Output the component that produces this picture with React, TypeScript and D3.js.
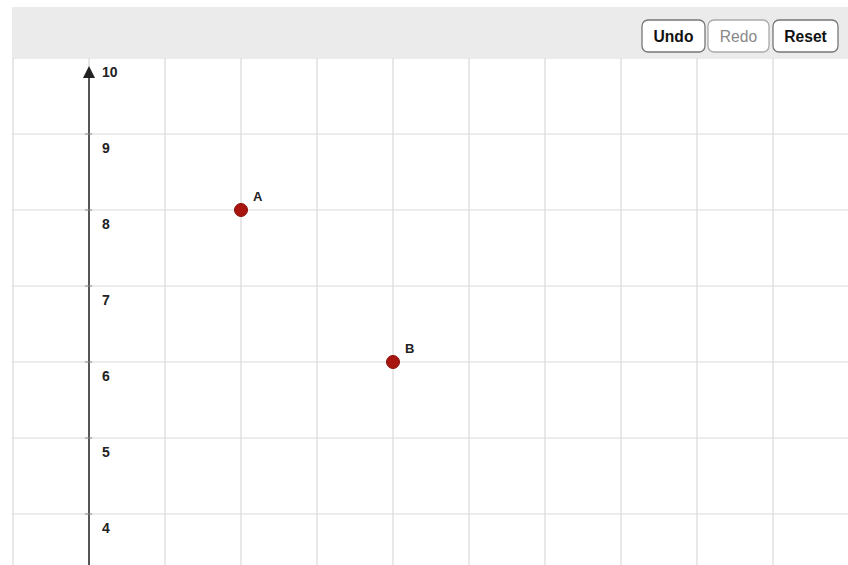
import React from "react";
import * as d3 from "d3";

const pointNames = ["A", "B"];
const pointX = [2, 4];
const pointY = [8, 6];
const yTickValues = [4, 5, 6, 7, 8, 9, 10];
const xGridValues = [-1, 0, 1, 2, 3, 4, 5, 6, 7, 8, 9];
const yGridValues = [3, 4, 5, 6, 7, 8, 9, 10];
const buttons = ["Undo", "Redo", "Reset"];
const buttonEnabled = [true, false, true];

const W = 848;
const H = 565;
const left = 12;
const top = 58;

export default function App() {
  const x = d3.scaleLinear().domain([-1, 9.9868]).range([left + 1, W]);
  const y = d3.scaleLinear().domain([10, 3.329]).range([top, H]);
  const bx = [642, 708, 773];
  const bw = [63, 61, 65];
  return (
    <svg
      width={W}
      height={H}
      style={{ position: "absolute", left: 0, top: 0, background: "#fff" }}
      fontFamily="Liberation Sans, Arial, sans-serif"
    >
      <defs>
        <clipPath id="plot">
          <rect x={left} y={top} width={W - left} height={H - top} />
        </clipPath>
      </defs>
      <g clipPath="url(#plot)">
        {xGridValues.map((v) => (
          <line key={"gx" + v} x1={x(v)} x2={x(v)} y1={top} y2={H} stroke="#d9d9d9" strokeWidth={1.2} />
        ))}
        {yGridValues.map((v) => (
          <line key={"gy" + v} x1={left} x2={W} y1={y(v)} y2={y(v)} stroke="#d9d9d9" strokeWidth={1.2} />
        ))}
      </g>
      <rect x={left} y={7} width={W - left} height={top - 7} fill="#ebebeb" />
      {buttons.map((b, i) => (
        <g key={b}>
          <rect x={bx[i]} y={20} width={bw[i]} height={32} rx={6} fill="#fff" stroke={buttonEnabled[i] ? "#777" : "#aaa"} strokeWidth={1.3} />
          <text
            x={bx[i] + bw[i] / 2}
            y={42}
            textAnchor="middle"
            fontSize={17}
            fontWeight={buttonEnabled[i] ? "bold" : "normal"}
            fill={buttonEnabled[i] ? "#111" : "#888"}
            transform={`translate(${bx[i] + bw[i] / 2},0) scale(0.92,1) translate(${-(bx[i] + bw[i] / 2)},0)`}
          >
            {b}
          </text>
        </g>
      ))}
      <line x1={x(0)} x2={x(0)} y1={72} y2={H} stroke="#555" strokeWidth={2} />
      <path d={`M${x(0) - 6},${78} L${x(0)},${66} L${x(0) + 6},${78} Z`} fill="#222" />
      {yTickValues.map((v) => (
        <g key={"t" + v}>
          {v < 10 && <line x1={x(0) - 4} x2={x(0) + 3} y1={y(v)} y2={y(v)} stroke="#888" strokeWidth={1} />}
          <text x={x(0) + 13} y={y(v) + 19} fontSize={14} fontWeight="bold" fill="#222">
            {v}
          </text>
        </g>
      ))}
      {pointNames.map((n, i) => (
        <g key={n}>
          <circle cx={x(pointX[i])} cy={y(pointY[i])} r={6.5} fill="#a8150f" stroke="#8a0f0a" strokeWidth={1} />
          <text x={x(pointX[i]) + 12} y={y(pointY[i]) - 9} fontSize={13} fontWeight="bold" fill="#222">
            {n}
          </text>
        </g>
      ))}
    </svg>
  );
}
